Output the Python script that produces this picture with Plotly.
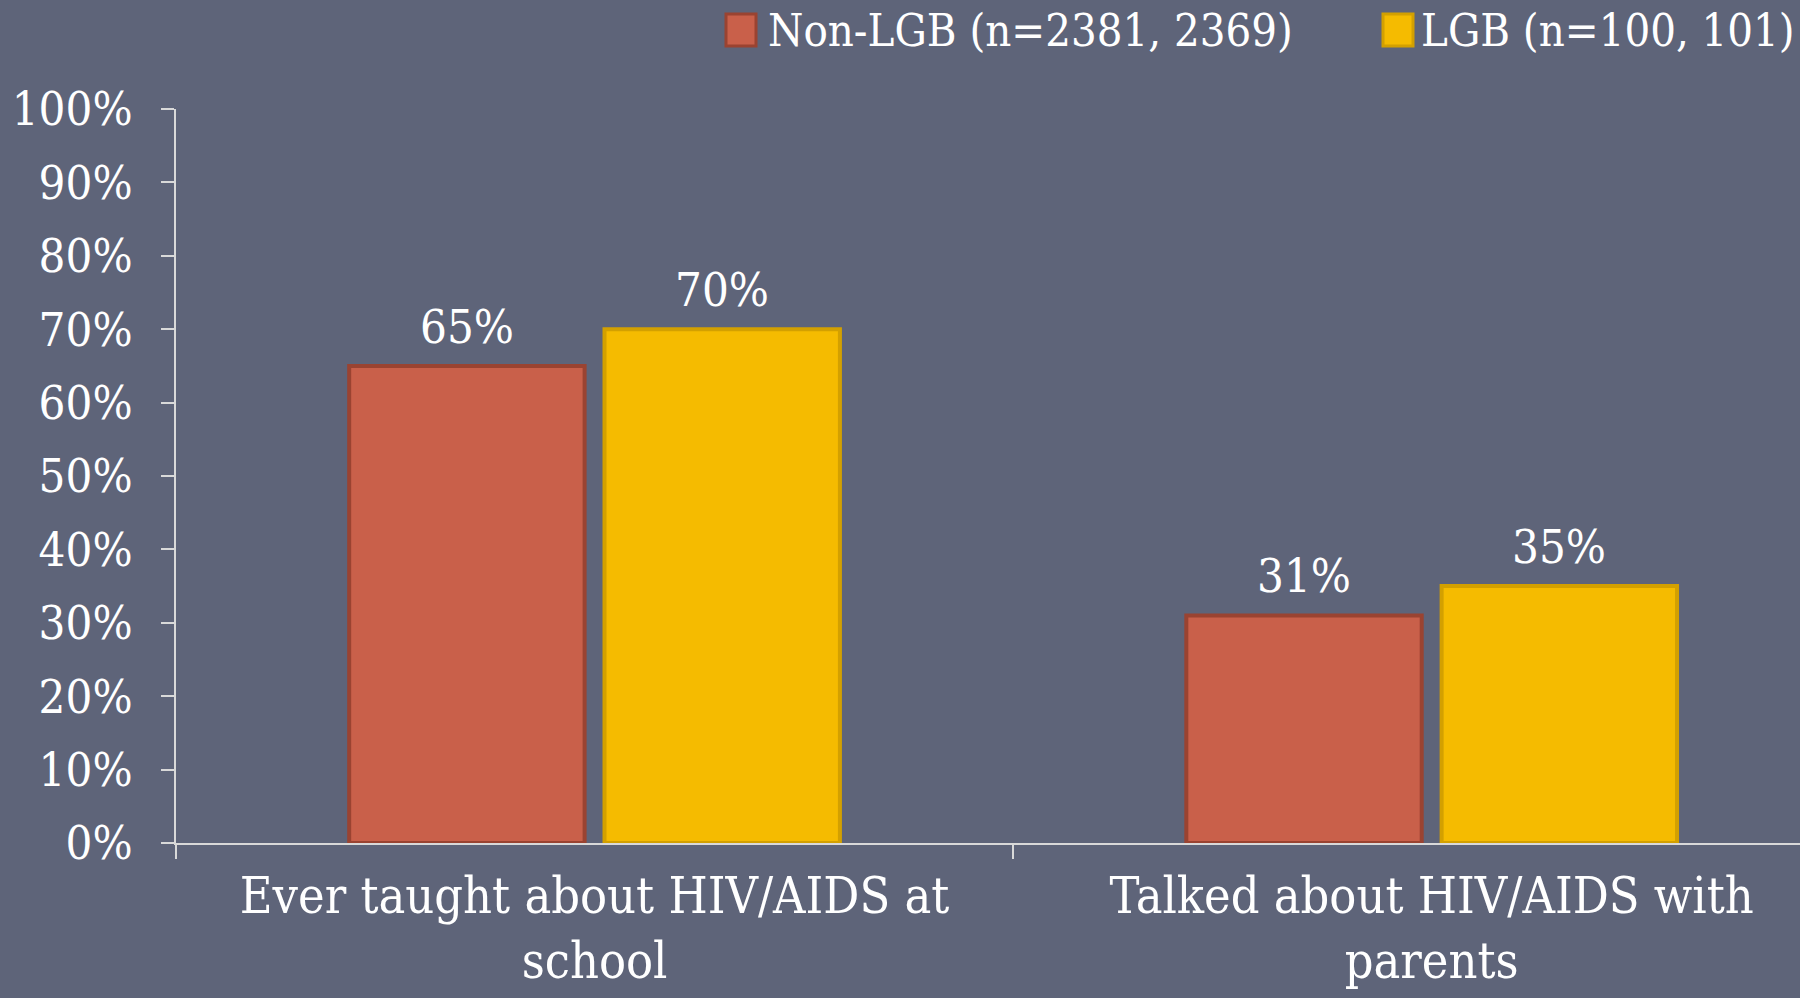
import plotly.graph_objects as go

categories = ["Ever taught about HIV/AIDS at<br>school", "Talked about HIV/AIDS with<br>parents"]
series_names = ["Non-LGB (n=2381, 2369)", "LGB (n=100, 101)"]
non_lgb = [65, 31]
lgb = [70, 35]
y_ticks = [0, 10, 20, 30, 40, 50, 60, 70, 80, 90, 100]
y_tick_labels = [f"{v}%" for v in y_ticks]

W, H = 1800, 998
L, R, T, B = 176, 0, 109, 155
FONT = "DejaVu Serif Condensed, DejaVu Serif, serif"
BG = "#5E6479"
AXIS = "#D9D9D9"
fills = ["#C9604A", "#F5BB00"]
edges = ["#9A4331", "#D3A000"]
BARGAP, GROUPGAP = 0.39, 0.078


def px(x, y):
    # pixel -> paper coords
    return (x - L) / (W - L - R), (H - B - y) / (H - T - B)


fig = go.Figure()
for name, vals, fill, edge in zip(series_names, [non_lgb, lgb], fills, edges):
    fig.add_trace(go.Bar(
        x=categories, y=vals, name=name,
        marker=dict(color=fill, line=dict(color=edge, width=4)),
        showlegend=False,
    ))

# value labels, nudged into the middle of each bar of the group
x_range = [-0.5, 1.44]
cat_px = (W - L - R) / (x_range[1] - x_range[0])
slot = cat_px * (1 - BARGAP) / 2
for i, vals in enumerate([non_lgb, lgb]):
    for cat, v in zip(categories, vals):
        fig.add_annotation(x=cat, y=v, text=f"{v}%", showarrow=False,
                           xshift=(i - 0.5) * slot, yshift=10, yanchor="bottom",
                           font=dict(family=FONT, size=47, color="white"))

# legend drawn by hand so the swatches match the reference size
legend_items = [(726, 766), (1383, 1419)]
for (sx, tx), name, fill, edge in zip(legend_items, series_names, fills, edges):
    x0, y0 = px(sx, 46)
    x1, y1 = px(sx + 30, 14)
    fig.add_shape(type="rect", xref="paper", yref="paper", x0=x0, y0=y0, x1=x1, y1=y1,
                  fillcolor=fill, line=dict(color=edge, width=3))
    ax, ay = px(tx, 30)
    fig.add_annotation(x=ax, y=ay, xref="paper", yref="paper", text=name, showarrow=False,
                       xanchor="left", yanchor="middle",
                       font=dict(family=FONT, size=45, color="white"))

fig.update_layout(
    width=W, height=H,
    margin=dict(l=L, r=R, t=T, b=B),
    paper_bgcolor=BG, plot_bgcolor=BG,
    barmode="group", bargap=BARGAP, bargroupgap=GROUPGAP,
    font=dict(family=FONT, color="white"),
)
fig.update_yaxes(
    range=[0, 100], tickvals=y_ticks, ticktext=y_tick_labels,
    showgrid=False, zeroline=False,
    showline=True, linecolor=AXIS, linewidth=2,
    ticks="outside", ticklen=13, tickwidth=2, tickcolor=AXIS,
    ticklabelstandoff=19,
    tickfont=dict(family=FONT, size=47, color="white"),
)
fig.update_xaxes(
    range=x_range, showgrid=False, zeroline=False,
    showline=True, linecolor=AXIS, linewidth=2,
    ticks="outside", ticklen=14, tickwidth=2, tickcolor=AXIS,
    tickson="boundaries", automargin=False, ticklabelstandoff=8,
    tickfont=dict(family=FONT, size=50, color="white"),
)

fig.write_html("out.html", config={"displayModeBar": False},
               post_script="document.body.style.margin='0';")
